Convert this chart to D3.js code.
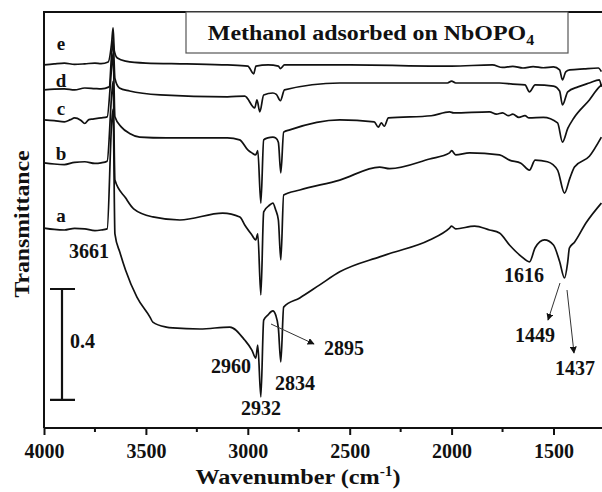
<!DOCTYPE html>
<html lang="en">
<head>
    <meta charset="UTF-8">
    <title>Methanol adsorbed on NbOPO4 - IR spectra</title>
    <script src="https://d3js.org/d3.v7.min.js"></script>
    <style>
        body {
            margin: 0;
            padding: 0;
            background-color: #fff;
        }
        svg text {
            font-family: "Liberation Serif", "Times New Roman", serif;
            font-weight: bold;
            fill: #111;
        }
    </style>
</head>
<body>
    <svg id="chart" width="602" height="492"></svg>

    <script>
        // wavenumber (cm-1), transmittance (offset, a.u.)
        const spectrumE = [
            [4000, 1.309], [3950, 1.313], [3900, 1.316], [3850, 1.311], [3800, 1.313], [3750, 1.316],
            [3720, 1.314], [3685, 1.320], [3668, 1.390], [3661, 1.443], [3655, 1.360], [3640, 1.334],
            [3600, 1.323], [3500, 1.316], [3300, 1.313], [3100, 1.309], [3000, 1.305], [2971, 1.277],
            [2960, 1.305], [2900, 1.309], [2850, 1.305], [2840, 1.296], [2820, 1.309], [2500, 1.309],
            [2000, 1.305], [1800, 1.309], [1750, 1.300], [1700, 1.304], [1650, 1.298], [1600, 1.303],
            [1550, 1.299], [1500, 1.302], [1470, 1.291], [1456, 1.255], [1440, 1.284], [1420, 1.291],
            [1350, 1.295], [1280, 1.298], [1265, 1.285]
        ];
        const spectrumD = [
            [4000, 1.219], [3950, 1.222], [3900, 1.223], [3850, 1.219], [3800, 1.226], [3750, 1.224],
            [3720, 1.223], [3680, 1.230], [3668, 1.350], [3661, 1.400], [3652, 1.260], [3630, 1.226],
            [3580, 1.215], [3430, 1.201], [3100, 1.194], [3015, 1.197], [2966, 1.154], [2955, 1.183],
            [2941, 1.140], [2922, 1.201], [2877, 1.208], [2860, 1.203], [2840, 1.180], [2820, 1.219],
            [2549, 1.244], [2020, 1.244], [2000, 1.251], [1980, 1.244], [1765, 1.244], [1700, 1.240],
            [1640, 1.237], [1618, 1.212], [1590, 1.237], [1500, 1.233], [1470, 1.215], [1456, 1.165],
            [1430, 1.212], [1380, 1.230], [1324, 1.244], [1275, 1.255], [1265, 1.230]
        ];
        const spectrumC = [
            [4000, 1.111], [3950, 1.108], [3900, 1.104], [3870, 1.112], [3850, 1.118], [3820, 1.110],
            [3800, 1.098], [3780, 1.112], [3760, 1.114], [3720, 1.118], [3690, 1.122], [3668, 1.300],
            [3661, 1.350], [3652, 1.122], [3620, 1.085], [3580, 1.062], [3530, 1.049], [3400, 1.046],
            [3100, 1.046], [3040, 1.039], [3000, 1.003], [2980, 0.992], [2961, 0.985], [2951, 1.000],
            [2936, 0.811], [2922, 1.039], [2902, 1.046], [2877, 1.049], [2863, 1.046], [2850, 1.030],
            [2838, 0.920], [2824, 1.067], [2794, 1.075], [2549, 1.111], [2380, 1.104], [2360, 1.085],
            [2345, 1.100], [2330, 1.088], [2310, 1.118], [2100, 1.126], [2010, 1.140], [1990, 1.136],
            [1814, 1.140], [1780, 1.132], [1750, 1.136], [1720, 1.126], [1700, 1.132], [1670, 1.120],
            [1640, 1.126], [1620, 1.118], [1550, 1.120], [1480, 1.100], [1456, 1.031], [1430, 1.080],
            [1400, 1.118], [1324, 1.183], [1275, 1.230], [1262, 1.238]
        ];
        const spectrumB = [
            [4000, 0.956], [3950, 0.952], [3900, 0.950], [3850, 0.958], [3800, 0.960], [3750, 0.954],
            [3720, 0.956], [3690, 0.962], [3668, 1.200], [3661, 1.250], [3652, 0.894], [3600, 0.830],
            [3560, 0.790], [3466, 0.761], [3333, 0.750], [3123, 0.775], [3039, 0.761], [3015, 0.732],
            [2980, 0.696], [2961, 0.678], [2951, 0.700], [2936, 0.480], [2922, 0.779], [2892, 0.804],
            [2877, 0.811], [2863, 0.786], [2850, 0.750], [2838, 0.606], [2824, 0.840], [2745, 0.858],
            [2549, 0.894], [2353, 0.941], [2304, 0.935], [2108, 0.970], [2010, 0.992], [2000, 1.000],
            [1980, 0.985], [1912, 0.992], [1765, 0.985], [1716, 0.966], [1660, 0.955], [1618, 0.930],
            [1590, 0.966], [1530, 0.960], [1480, 0.930], [1446, 0.847], [1420, 0.900], [1397, 0.941],
            [1324, 0.980], [1265, 1.049]
        ];
        const spectrumA = [
            [4000, 0.721], [3950, 0.716], [3900, 0.714], [3850, 0.720], [3800, 0.718], [3750, 0.712],
            [3720, 0.714], [3690, 0.718], [3668, 1.100], [3661, 1.150], [3652, 0.700], [3627, 0.632],
            [3600, 0.570], [3544, 0.472], [3480, 0.400], [3466, 0.382], [3400, 0.364], [3368, 0.361],
            [3235, 0.357], [3088, 0.364], [3015, 0.317], [2980, 0.281], [2961, 0.252], [2951, 0.299],
            [2936, 0.112], [2922, 0.389], [2902, 0.407], [2877, 0.422], [2863, 0.407], [2850, 0.360],
            [2838, 0.238], [2824, 0.436], [2745, 0.469], [2647, 0.516], [2549, 0.563], [2353, 0.617],
            [2300, 0.630], [2108, 0.678], [2010, 0.721], [2000, 0.728], [1980, 0.718], [1887, 0.728],
            [1814, 0.714], [1765, 0.703], [1716, 0.660], [1660, 0.620], [1618, 0.599], [1590, 0.650],
            [1544, 0.678], [1500, 0.660], [1470, 0.600], [1446, 0.541], [1430, 0.600], [1422, 0.649],
            [1397, 0.670], [1340, 0.740], [1265, 0.811]
        ];

        const curveNames = ['e', 'd', 'c', 'b', 'a'];
        const xTicks = [4000, 3500, 3000, 2500, 2000, 1500];
        const xMinorTicks = [3750, 3250, 2750, 2250, 1750];
        const peakLabels = ['3661', '2960', '2932', '2834', '2895', '1616', '1449', '1437'];
        const scaleBarValue = 0.4;

        const margin = {left: 44, right: 0, top: 12, bottom: 64};
        const width = 602;
        const height = 492;

        const svg = d3.select('#chart');

        const x = d3.scaleLinear()
            .domain([4000, 1262])
            .range([margin.left, width - margin.right]);
        const y = d3.scaleLinear()
            .domain([0, 1.5])
            .range([height - margin.bottom, margin.top]);

        const line = d3.line()
            .x(d => x(d[0]))
            .y(d => y(d[1]))
            .curve(d3.curveMonotoneX);

        // Spectra
        const spectra = [spectrumE, spectrumD, spectrumC, spectrumB, spectrumA];
        svg.append('g')
            .selectAll('path')
            .data(spectra)
            .enter()
            .append('path')
            .attr('d', line)
            .attr('fill', 'none')
            .attr('stroke', '#111')
            .attr('stroke-width', 1.7)
            .attr('stroke-linejoin', 'round');

        // Frame: left, top, bottom
        const x0 = margin.left, x1 = width - margin.right;
        const y0 = margin.top, y1 = height - margin.bottom;
        svg.append('path')
            .attr('d', `M${x0},${y1}V${y0}H${x1}M${x0},${y1}H${x1}`)
            .attr('fill', 'none')
            .attr('stroke', '#111')
            .attr('stroke-width', 2);

        // x axis
        const xAxis = svg.append('g')
            .attr('transform', `translate(0,${y1})`)
            .call(d3.axisBottom(x).tickValues(xTicks).tickSize(7).tickPadding(9).tickFormat(d3.format('d')));
        xAxis.select('.domain').remove();
        xAxis.selectAll('line').attr('stroke', '#111').attr('stroke-width', 2);
        xAxis.selectAll('text')
            .attr('font-size', 20)
            .attr('font-family', '"Liberation Serif", serif')
            .attr('font-weight', 'bold')
            .attr('fill', '#111');

        svg.append('g')
            .selectAll('line')
            .data(xMinorTicks)
            .enter()
            .append('line')
            .attr('x1', d => x(d))
            .attr('x2', d => x(d))
            .attr('y1', y1)
            .attr('y2', y1 + 4)
            .attr('stroke', '#111')
            .attr('stroke-width', 2);

        // Axis titles (the source lettering is a little wider than the font)
        const xLabel = svg.append('text')
            .attr('transform', 'translate(298,484) scale(1.1,1)')
            .attr('text-anchor', 'middle')
            .attr('font-size', 22);
        xLabel.append('tspan').text('Wavenumber (cm');
        xLabel.append('tspan').text('-1').attr('font-size', 14).attr('dy', -8);
        xLabel.append('tspan').text(')').attr('dy', 8);

        svg.append('text')
            .attr('transform', 'translate(29,224) rotate(-90) scale(1.08,1)')
            .attr('text-anchor', 'middle')
            .attr('font-size', 22)
            .text('Transmittance');

        // Title box
        svg.append('rect')
            .attr('x', 186)
            .attr('y', y0)
            .attr('width', 382)
            .attr('height', 41)
            .attr('fill', '#fff')
            .attr('stroke', '#555')
            .attr('stroke-width', 1.2);
        const title = svg.append('text')
            .attr('transform', 'translate(371,40) scale(1.14,1)')
            .attr('text-anchor', 'middle')
            .attr('font-size', 21);
        title.append('tspan').text('Methanol adsorbed on NbOPO');
        title.append('tspan').text('4').attr('font-size', 14).attr('dy', 5);

        // Curve letters
        const letterY = [50, 87, 115, 160, 222];
        svg.append('g')
            .selectAll('text')
            .data(curveNames)
            .enter()
            .append('text')
            .attr('x', 61)
            .attr('y', (d, i) => letterY[i])
            .attr('text-anchor', 'middle')
            .attr('font-size', 19)
            .text(d => d);

        // Scale bar
        const barX = 62;
        const barTop = 289;
        const barBottom = barTop + (y(0) - y(scaleBarValue));
        svg.append('path')
            .attr('d', `M${barX - 12},${barTop}H${barX + 13}M${barX},${barTop}V${barBottom}M${barX - 12},${barBottom}H${barX + 13}`)
            .attr('fill', 'none')
            .attr('stroke', '#111')
            .attr('stroke-width', 2.2);
        svg.append('text')
            .attr('x', 70)
            .attr('y', 348)
            .attr('font-size', 20)
            .text(scaleBarValue);

        // Peak labels
        const labelPos = {
            '3661': [89, 258], '2960': [231, 373], '2932': [261, 415], '2834': [295, 390],
            '2895': [344, 355], '1616': [524, 282], '1449': [535, 342], '1437': [575, 375]
        };
        svg.append('g')
            .selectAll('text')
            .data(peakLabels)
            .enter()
            .append('text')
            .attr('x', d => labelPos[d][0])
            .attr('y', d => labelPos[d][1])
            .attr('text-anchor', 'middle')
            .attr('font-size', 20)
            .text(d => d);

        // Arrows
        svg.append('defs').append('marker')
            .attr('id', 'arrow')
            .attr('viewBox', '0 0 10 10')
            .attr('refX', 9)
            .attr('refY', 5)
            .attr('markerWidth', 7)
            .attr('markerHeight', 7)
            .attr('markerUnits', 'userSpaceOnUse')
            .attr('orient', 'auto')
            .append('path')
            .attr('d', 'M0,0L10,5L0,10z')
            .attr('fill', '#111');

        const arrows = [
            [[271, 324], [314, 344]],
            [[560, 283], [548, 320]],
            [[567, 290], [574, 353]]
        ];
        svg.append('g')
            .selectAll('line')
            .data(arrows)
            .enter()
            .append('line')
            .attr('x1', d => d[0][0])
            .attr('y1', d => d[0][1])
            .attr('x2', d => d[1][0])
            .attr('y2', d => d[1][1])
            .attr('stroke', '#333')
            .attr('stroke-width', 1)
            .attr('marker-end', 'url(#arrow)');
    </script>
</body>
</html>
